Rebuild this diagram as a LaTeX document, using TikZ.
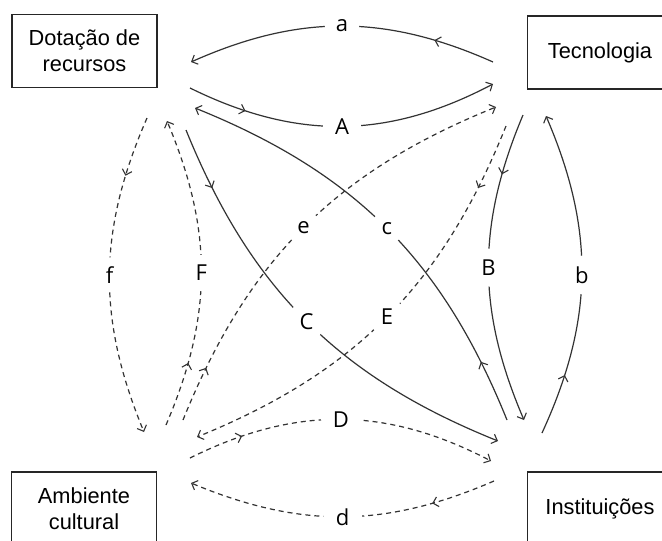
\documentclass[tikz,border=0pt]{standalone}
\usepackage{fontspec}
\setmainfont{Liberation Sans}
\newfontfamily\lblfont{Open Sans}
\usetikzlibrary{arrows.meta,decorations.markings}
\begin{document}
\begin{tikzpicture}[x=1pt,y=-1pt,
  box/.style={draw=black!85,line width=1.3pt,minimum width=145pt,minimum height=73pt,align=center,inner sep=0pt,font=\fontsize{21.8}{26}\selectfont,text=black},
  conn/.style={draw=black!80,line width=1.2pt,-{Straight Barb[length=5pt,width=10pt,line width=1.1pt]}},
  dsh/.style={conn,dash pattern=on 5pt off 4pt},
  midarr/.style={postaction={decorate,decoration={markings,mark=at position #1 with {\arrow[line width=1.1pt]{Straight Barb[length=5pt,width=10pt]}}}}},
  lbl/.style={circle,fill=white,inner sep=6pt,font=\lblfont\fontsize{22}{22}\selectfont,text=black}]
\clip (0,0) rectangle (662,541);
\fill[white] (0,0) rectangle (662,541);
% boxes
\node[box] (dot) at (84.5,51) {Dotação de\\recursos};
\node[box] (tec) at (600,52.5) {Tecnologia};
\node[box] (amb) at (84,508.5) {Ambiente\\cultural};
\node[box] (ins) at (600,508.5) {Instituições};
% endpoints
\coordinate (a1) at (493,62);  \coordinate (a2) at (191,62);
\coordinate (A1) at (190,88);  \coordinate (A2) at (493,84);
\coordinate (c1) at (507,420); \coordinate (c2) at (195,108);
\coordinate (C1) at (186,130); \coordinate (C2) at (498,441);
\coordinate (B1) at (523,115); \coordinate (B2) at (524,420);
\coordinate (b1) at (542,433); \coordinate (b2) at (546,116);
\coordinate (D1) at (190,458); \coordinate (D2) at (491,461);
\coordinate (d1) at (494,481); \coordinate (d2) at (191,483);
\coordinate (e1) at (183,420); \coordinate (e2) at (496,107);
\coordinate (E1) at (506,126); \coordinate (E2) at (197,437);
\coordinate (f1) at (147,118); \coordinate (f2) at (144,432);
\coordinate (F1) at (166,425); \coordinate (F2) at (167,121);
% solid connectors
\draw[conn,midarr=0.2]  (a1) to[bend right=24] node[lbl]{a} (a2);
\draw[conn,midarr=0.19] (A1) to[bend right=27] node[lbl]{A} (A2);
\draw[conn,midarr=0.14] (c1) to[bend right=23] node[lbl]{c} (c2);
\draw[conn,midarr=0.14] (C1) to[bend right=23] node[lbl]{C} (C2);
\draw[conn,midarr=0.2]  (B1) to[bend right=23] node[lbl]{B} (B2);
\draw[conn,midarr=0.19] (b1) to[bend right=24] node[lbl]{b} (b2);
% dashed connectors
\draw[dsh,midarr=0.18]  (D1) to[bend left=27] node[lbl]{D} (D2);
\draw[dsh,midarr=0.21]  (d1) to[bend left=23] node[lbl]{d} (d2);
\draw[dsh,midarr=0.125] (e1) to[bend left=23] node[lbl]{e} (e2);
\draw[dsh,midarr=0.15]  (E1) to[bend left=23] node[lbl]{E} (E2);
\draw[dsh,midarr=0.19]  (f1) to[bend right=23] node[lbl]{f} (f2);
\draw[dsh,midarr=0.21]  (F1) to[bend right=23] node[lbl]{F} (F2);
\end{tikzpicture}
\end{document}
